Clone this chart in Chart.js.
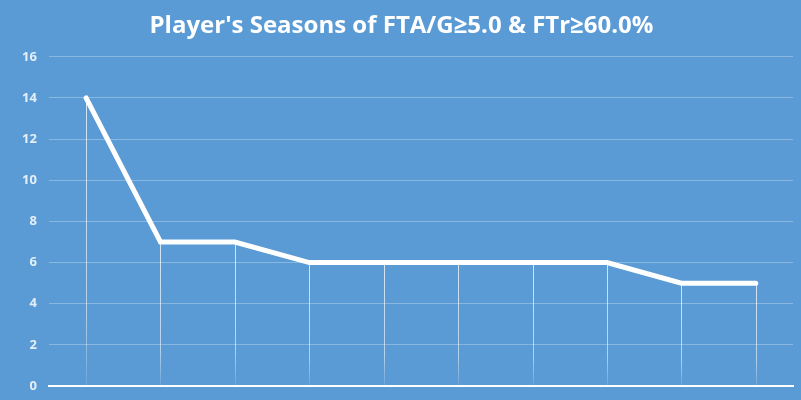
<!DOCTYPE html>
<html>
<head>
<meta charset="utf-8">
<script src="https://cdn.jsdelivr.net/npm/chart.js@4/dist/chart.umd.min.js"></script>
<style>
  html, body { margin: 0; padding: 0; background: #5b9bd5; }
  #wrap { width: 801px; height: 400px; }
</style>
</head>
<body>
<div id="wrap"><canvas id="chart"></canvas></div>
<script>
// Seasons per player (one point per player, sorted)
const players = ["1", "2", "3", "4", "5", "6", "7", "8", "9", "10"]
const seasons = [14, 7, 7, 6, 6, 6, 6, 6, 5, 5]
const yTicks = [0, 2, 4, 6, 8, 10, 12, 14, 16]

// vertical drop lines from each point down to the axis
const dropLines = {
  id: "dropLines",
  beforeDatasetsDraw(chart) {
    const { ctx, scales } = chart
    const base = scales.y.getPixelForValue(0)
    ctx.save()
    ctx.lineWidth = 1
    chart.getDatasetMeta(0).data.forEach((pt) => {
      const grad = ctx.createLinearGradient(0, pt.y, 0, base)
      grad.addColorStop(0, "rgba(255,255,255,0.75)")
      grad.addColorStop(0.75, "rgba(255,255,255,0.55)")
      grad.addColorStop(1, "rgba(255,255,255,0.1)")
      ctx.strokeStyle = grad
      ctx.beginPath()
      ctx.moveTo(Math.round(pt.x) + 0.5, pt.y)
      ctx.lineTo(Math.round(pt.x) + 0.5, base)
      ctx.stroke()
    })
    ctx.restore()
  },
}

new Chart(document.getElementById("chart"), {
  type: "line",
  data: {
    labels: players,
    datasets: [
      {
        data: seasons,
        borderColor: "#ffffff",
        borderWidth: 5,
        borderCapStyle: "round",
        borderJoinStyle: "miter",
        pointRadius: 0,
        tension: 0,
      },
    ],
  },
  options: {
    responsive: true,
    maintainAspectRatio: false,
    animation: false,
    layout: { padding: { left: 10, right: 8, top: 0, bottom: 13 } },
    plugins: {
      legend: { display: false },
      tooltip: { enabled: false },
      title: {
        display: true,
        text: "Player's Seasons of FTA/G≥5.0 & FTr≥60.0%",
        color: "#ffffff",
        font: { family: "Open Sans", size: 24, weight: "bold" },
        padding: { top: 12, bottom: 16 },
      },
    },
    scales: {
      x: {
        offset: true,
        grid: { display: false },
        border: { color: "#ffffff", width: 2 },
        ticks: { display: false },
        afterFit: (axis) => {
          axis.height = 1
        },
      },
      y: {
        min: 0,
        max: 16,
        afterBuildTicks: (axis) => {
          axis.ticks = yTicks.map((v) => ({ value: v }))
        },
        afterFit: (axis) => {
          axis.paddingBottom = 0
          axis.paddingTop = 0
        },
        grid: { color: "rgba(255,255,255,0.28)", drawTicks: false },
        border: { display: false },
        ticks: {
          color: "#e4eef8",
          padding: 12,
          font: { family: "Open Sans", size: 13, weight: "bold" },
        },
      },
    },
  },
  plugins: [dropLines],
})
</script>
</body>
</html>
